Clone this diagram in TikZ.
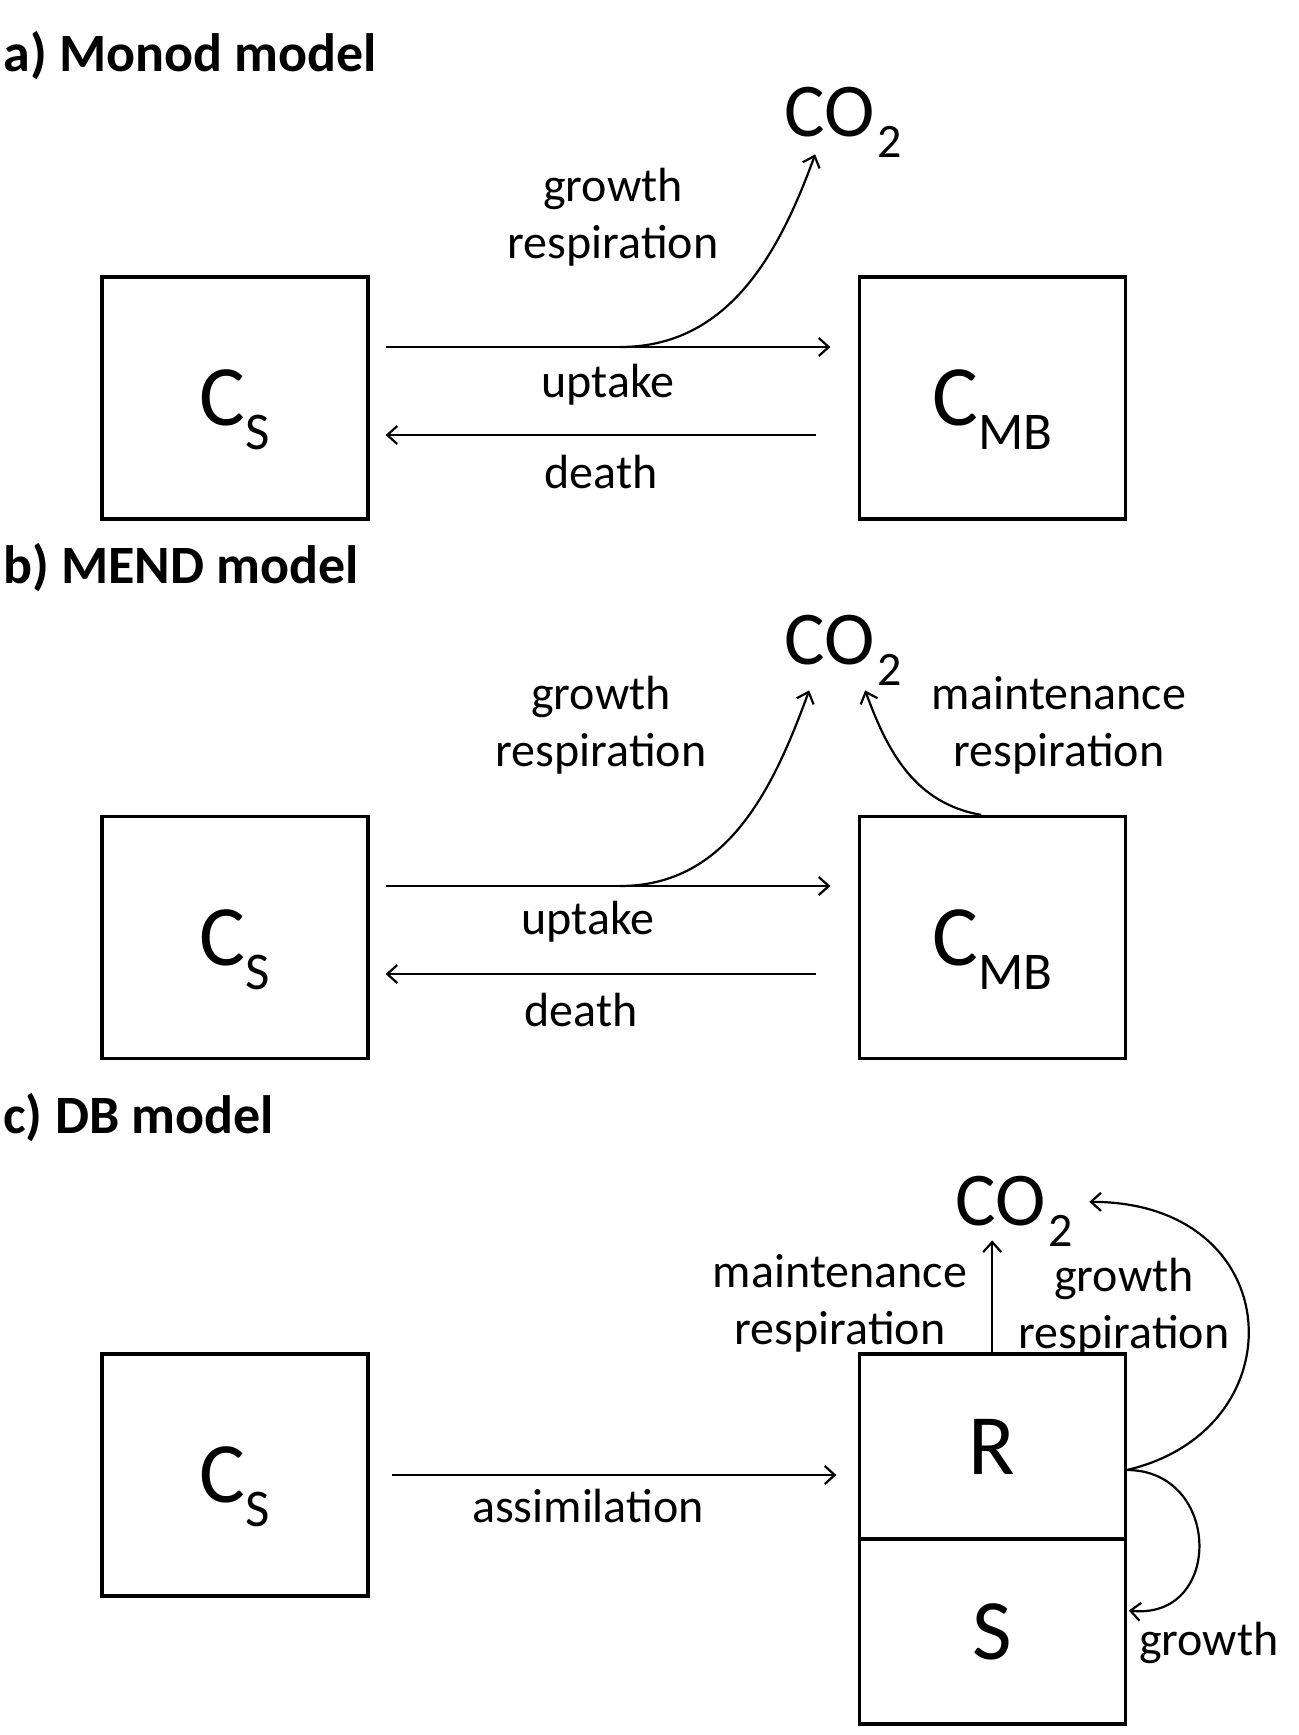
\documentclass[tikz,border=0pt]{standalone}
\usepackage{fontspec}
\setmainfont{Carlito}
\usetikzlibrary{arrows.meta, positioning}
\newcommand{\poolname}[2]{#1\raisebox{-12pt}[0pt][0pt]{\fontsize{26.5}{30}\selectfont #2}}
\newcommand{\cotwo}{CO\kern1.5pt\raisebox{-10.5pt}{\fontsize{24}{28}\selectfont 2}}
\tikzset{
    poolbox/.style={rectangle, draw, line width=1.6pt, minimum width=133pt, minimum height=121pt, inner sep=0pt, font=\fontsize{43}{50}\selectfont},
    halfbox/.style={poolbox, minimum height=92.5pt},
    gas/.style={inner sep=0pt, anchor=base west, font=\fontsize{38}{44}\selectfont},
    flowlabel/.style={inner sep=1pt, align=center, font=\fontsize{24}{28.5}\selectfont},
    paneltitle/.style={inner sep=0pt, anchor=base west, font=\fontsize{27}{32}\selectfont\bfseries},
    flow/.style={-{Straight Barb[length=5pt,width=9pt]}, line width=1.1pt},
}

\begin{document}
\begin{tikzpicture}[x=0.5pt, y=-0.5pt]
\useasboundingbox (0,0) rectangle (1298,1735);

% a) Monod model
\node[paneltitle] (titlea) at (3,71) {a) Monod model};
\node[poolbox] (csa) at (235,398) {\poolname{C}{S}};
\node[poolbox, right=244pt of csa] (cmba) {\poolname{C}{MB}};
\node[gas] (co2a) at (784,136) {\cotwo};
\draw[flow] ([xshift=8pt,yshift=25.5pt]csa.east) -- coordinate[pos=0.527] (forka) node[flowlabel, midway, yshift=-19pt] (uptakea) {uptake} ([xshift=-13.6pt,yshift=25.5pt]cmba.west);
\draw[flow] ([xshift=-20.6pt,yshift=-18.5pt]cmba.west) -- node[flowlabel, midway, yshift=-18.5pt] (deatha) {death} ([xshift=8pt,yshift=-18.5pt]csa.east);
\draw[flow] (forka) to[out=0,in=-110] ([xshift=-14pt,yshift=1.5pt]co2a.south);
\node[flowlabel] (growtha) at (613,217) {growth\\respiration};

% b) MEND model
\node[paneltitle] (titleb) at (3,583) {b) MEND model};
\node[poolbox] (csb) at (235,937.5) {\poolname{C}{S}};
\node[poolbox, right=244pt of csb] (cmbb) {\poolname{C}{MB}};
\node[gas] (co2b) at (784,664) {\cotwo};
\draw[flow] ([xshift=8pt,yshift=25.75pt]csb.east) -- coordinate[pos=0.527] (forkb) node[flowlabel, midway, xshift=-10pt, yshift=-18pt] (uptakeb) {uptake} ([xshift=-13.6pt,yshift=25.75pt]cmbb.west);
\draw[flow] ([xshift=-20.6pt,yshift=-18.25pt]cmbb.west) -- node[flowlabel, midway, xshift=-10pt, yshift=-18pt] (deathb) {death} ([xshift=8pt,yshift=-18.25pt]csb.east);
\draw[flow] (forkb) to[out=0,in=-110] ([xshift=-17pt,yshift=-2.5pt]co2b.south);
\draw[flow] ([xshift=-5.5pt]cmbb.north) to[out=170,in=-70] ([xshift=11pt,yshift=-2.5pt]co2b.south);
\node[flowlabel] (growthb) at (601,725.5) {growth\\respiration};
\node[flowlabel] (maintb) at (1059,725.5) {maintenance\\respiration};

% c) DB model
\node[paneltitle] (titlec) at (3,1133) {c) DB model};
\node[poolbox] (csc) at (235,1475) {\poolname{C}{S}};
\node[halfbox, anchor=north west] (rc) at ([xshift=244pt]csc.north east) {R};
\node[halfbox, below=-1.6pt of rc] (sc) {S};
\node[gas] (co2c) at (955,1225) {\cotwo};
\draw[flow] ([xshift=11pt]csc.east) -- node[flowlabel, midway, xshift=-13pt, yshift=-15.5pt] (assimc) {assimilation} ([xshift=-10.6pt]rc.west |- csc.east);
\draw[flow] (rc.north) -- ([yshift=3pt]rc.north |- co2c.south);
\coordinate (rout) at ([yshift=-11.75pt]rc.east);
\draw[flow] (rout) .. controls +(173,-40) and +(200,0) .. ([xshift=8pt,yshift=4.5pt]co2c.east);
\draw[flow] (rout) .. controls +(95,0) and +(95,10) .. ([xshift=1pt,yshift=10.5pt]sc.east);
\node[flowlabel] (maintc) at (840,1303) {maintenance\\respiration};
\node[flowlabel] (growthrc) at (1124,1307) {growth\\respiration};
\node[flowlabel] (growthc) at ([xshift=41pt,yshift=-5.5pt]sc.east) {growth};
\end{tikzpicture}
\end{document}
